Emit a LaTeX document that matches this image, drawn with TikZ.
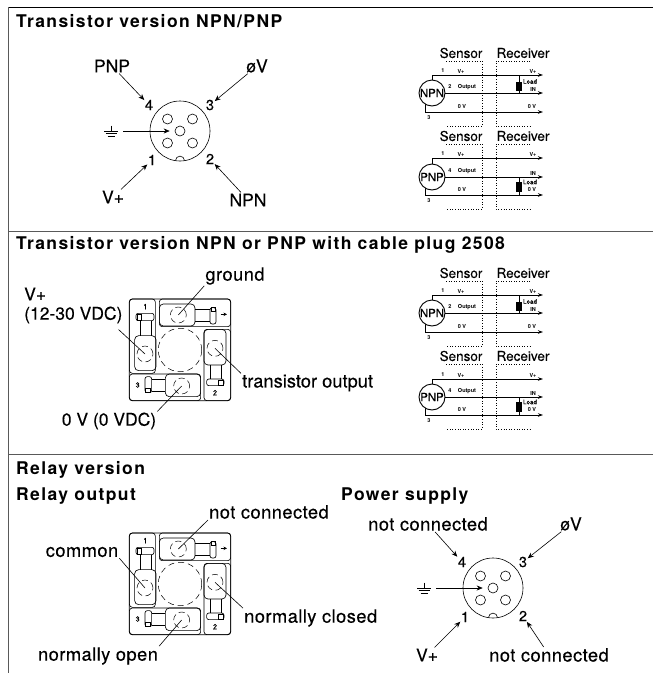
\documentclass[tikz,border=0pt]{standalone}
\usepackage{fontspec}
\setmainfont{TeX Gyre Heros}
\newfontfamily\ttlfont[LetterSpace=8,BoldFont={TeX Gyre Heros Bold}]{TeX Gyre Heros}
\newfontfamily\medfont[FakeBold=0.25,LetterSpace=2.5]{TeX Gyre Heros}
\newfontfamily\numfont[FakeBold=0.25]{TeX Gyre Heros}
\usetikzlibrary{arrows.meta}
\tikzset{
  frameline/.style={line width=1pt,draw=black!65},
  arr/.style={line width=0.6pt,-{Stealth[length=6pt,width=5pt]}},
  ptr/.style={line width=0.6pt},
  ttl/.style={anchor=west,inner sep=0pt,font=\ttlfont\bfseries\fontsize{17.5}{18}\selectfont},
  lab/.style={inner sep=1pt,font=\medfont\fontsize{18.3}{19}\selectfont},
  capslab/.style={inner sep=1pt,font=\numfont\fontsize{17.5}{18}\selectfont},
  translab/.style={inner sep=1pt,font=\numfont\fontsize{18.3}{19}\selectfont},
  pinnum/.style={inner sep=0.5pt,font=\numfont\fontsize{14.5}{15}\selectfont},
  head/.style={inner sep=0pt,font=\numfont\fontsize{13.5}{14}\selectfont},
  tinylab/.style={inner sep=0pt,font=\bfseries\fontsize{5.5}{6}\selectfont},
  tinyplain/.style={inner sep=0pt,font=\numfont\fontsize{6.2}{7}\selectfont},
  devcircle/.style={circle,draw,line width=0.9pt,fill=white,minimum size=26pt,inner sep=0pt,font=\numfont\fontsize{11.4}{12}\selectfont},
  sigline/.style={line width=0.9pt},
  sigarr/.style={line width=0.9pt,-{Stealth[length=5pt,width=3.5pt]}},
  dotbox/.style={line width=0.6pt,dotted},
  pinhole/.style={circle,draw,line width=0.6pt,minimum size=10pt,inner sep=0pt},
  dashc/.style={circle,draw,line width=0.5pt,dash pattern=on 6pt off 3.5pt,inner sep=0pt,minimum size=16pt},
  smallnum/.style={inner sep=0pt,font=\numfont\fontsize{7.5}{8}\selectfont},
  pl/.style={line width=0.65pt,rounded corners=2.2pt},
  pics/roundconn/.style={code={
    \node[circle,draw,line width=0.6pt,minimum size=60pt,inner sep=0pt] (-body) at (0,0) {};
    \node[pinhole] (-p1) at (-12.5,-12) {};
    \node[pinhole] (-p2) at (12.5,-12) {};
    \node[pinhole] (-pc) at (0,0) {};
    \node[pinhole] (-p3) at (-12.5,12) {};
    \node[pinhole] (-p4) at (12.5,12) {};
    \draw[line width=0.6pt] (-4.5,29.6) arc[start angle=180,end angle=360,radius=4.5];
    \node[pinnum] (-n4) at (-31,-26) {4};
    \node[pinnum] (-n3) at (30,-26) {3};
    \node[pinnum] (-n1) at (-28,29) {1};
    \node[pinnum] (-n2) at (30,28) {2};
    \coordinate (-gnd) at (-62,0);
    \draw[line width=0.6pt] (-69,-5.5) -- (-69,0) (-76,0) -- (-62,0);
    \draw[line width=0.6pt] (-74.5,2.5) -- (-63.5,2.5);
    \draw[line width=0.6pt] (-72.5,5) -- (-65.5,5);
    \draw[arr] ([xshift=5pt]-gnd) -- ([xshift=-5pt]-pc.west);
  }},
  pics/plugbox/.style={code={
    \draw[pl,line width=0.8pt,rounded corners=3pt] (88,57) rectangle (392,362);
    \draw[pl,rounded corners=3pt] (88,57) rectangle (166,280);
    \draw[pl,rounded corners=3pt] (178,57) rectangle (392,140);
    \draw[pl,rounded corners=3pt] (312,148) rectangle (392,362);
    \draw[pl,rounded corners=3pt] (88,282) rectangle (302,362);
    \node[circle,draw,line width=0.5pt,dash pattern=on 6pt off 4pt,minimum size=43.5pt,inner sep=0pt] (-big) at (240,210) {};
    \draw[pl,rounded corners=4pt] (178,72) rectangle (285,138);
    \draw[pl,rounded corners=4pt] (104,167) rectangle (168,272);
    \draw[pl,rounded corners=4pt] (312,148) rectangle (378,255);
    \draw[pl,rounded corners=4pt] (196,282) rectangle (302,350);
    \node[dashc] (-T) at (235,105) {};
    \node[dashc] (-L) at (135,222) {};
    \node[dashc] (-R) at (345,205) {};
    \node[dashc] (-B) at (245,318) {};
    % top stem and cap
    \draw[ptr] (285,88) -- (330,88) (285,125) -- (330,125);
    \draw[pl] (330,83) rectangle (348,132);
    \draw[ptr,line width=0.4pt] (333,83) rectangle (346,95);
    \draw[line width=0.6pt,-{Stealth[length=3.5pt,width=3.5pt]}] (362,103) -- (381,103);
    % left
    \draw[ptr] (120,122) -- (120,167) (155,122) -- (155,167);
    \draw[pl] (108,100) rectangle (162,122);
    \draw[ptr,line width=0.4pt] (111,103) rectangle (124,120);
    % right
    \draw[ptr] (330,255) -- (330,297) (365,255) -- (365,297);
    \draw[pl] (320,297) rectangle (372,317);
    \draw[ptr,line width=0.4pt] (356,300) rectangle (369,315);
    % bottom
    \draw[ptr] (155,298) -- (196,298) (155,333) -- (196,333);
    \draw[pl] (135,290) rectangle (155,338);
    \draw[ptr,line width=0.4pt] (136,325) rectangle (150,337);
    \node[smallnum] (-n1) at (136,80) {1};
    \node[smallnum] (-n2) at (345,338) {2};
    \node[smallnum] (-n3) at (113,315) {3};
  }},
}
\newcommand{\schemcommon}[2]{%
  \node[head] (#1s) at (461,53+#2) {Sensor};
  \node[head] (#1r) at (523,53+#2) {Receiver};
  \draw[dotbox] (446,61+#2) -- (482,61+#2) -- (482,126+#2) -- (446,126+#2);
  \draw[dotbox] (530,61+#2) -- (496,61+#2) -- (496,126+#2) -- (530,126+#2);
}
% prefix, V+ y, out y, 0V y, type, pin, load centre y, load line top, load line bottom
\newcommand{\schemlines}[9]{%
  \coordinate (#1vplus) at (543,#2);
  \coordinate (#1vout) at (543,#3);
  \coordinate (#1vzero) at (543,#4);
  \coordinate (#1corner) at (425,#4);
  \coordinate (#1start) at (425,#3);
  \draw[sigarr] (#1start) -- (#1corner) -- (#1vzero);
  \node[devcircle] (#1dev) at (432,#3) {#5};
  \draw[sigarr] (#1dev.north) |- (#1vplus);
  \draw[sigarr] (#1dev.east) -- (#1vout);
  \node[tinylab] (#1a) at (443,#2-4) {1};
  \node[tinylab] (#1b) at (461,#2-4) {V+};
  \node[tinylab] (#1c) at (533,#2-4) {V+};
  \node[tinylab] (#1d) at (450,#3-6) {#6};
  \node[tinylab] (#1e) at (467,#3-6) {Output};
  \node[tinylab] (#1f) at (533,#3-4) {IN};
  \node[tinylab] (#1g) at (462,#4-5) {0 V};
  \node[tinylab] (#1h) at (532,#4-5) {0 V};
  \node[tinylab] (#1i) at (429,#4+5.5) {3};
  \node[tinyplain] (#1l) at (530,#7-4.5) {Load};
  \coordinate (#1ltop) at (519,#8);
  \coordinate (#1lbot) at (519,#9);
  \draw[line width=0.8pt] (#1ltop) -- (#1lbot);
  \node[draw,fill=black,minimum width=5pt,minimum height=8.5pt,inner sep=0pt] (#1k) at (519,#7) {};
}
\begin{document}
\begin{tikzpicture}[x=1pt,y=-1pt]
\useasboundingbox (0,0) rectangle (653,673);
\fill[white] (0,0) rectangle (653,673);
% frame
\draw[line width=1pt,black] (8,7) -- (653,7);
\draw[frameline] (8,7) -- (8,673);
\draw[frameline] (8,231) -- (653,231);
\draw[frameline] (8,454) -- (653,454);
% titles
\node[ttl] (t1) at (16,21) {Transistor version NPN/PNP};
\node[ttl] (t2) at (16,245) {Transistor version NPN or PNP with cable plug 2508};
\node[ttl] (t3) at (16,470) {Relay version};
\node[ttl] (t4) at (16,496) {Relay output};
\node[ttl] (t5) at (341,496) {Power supply};
% connector 1
\pic (c) at (180,131) {roundconn};
\node[capslab] (pnp) at (112,66) {PNP};
\node[capslab] (ov) at (257,66) {øV};
\node[capslab] (vp) at (113,197) {V+};
\node[capslab] (npn) at (248,200) {NPN};
\draw[arr] (pnp) -- (c-n4);
\draw[arr] (ov) -- (c-n3);
\draw[arr] (vp) -- (c-n1);
\draw[arr] (npn) -- (c-n2);
% schematics
\schemcommon{a}{0}
\schemlines{a}{75}{93}{112}{NPN}{2}{86}{75}{93}
\schemcommon{b}{83}
\schemlines{b}{158}{177}{195}{PNP}{4}{186.5}{177}{195}
\schemcommon{d}{220}
\schemlines{d}{295}{313}{332}{NPN}{2}{306}{295}{313}
\schemcommon{e}{303}
\schemlines{e}{379}{397}{415}{PNP}{4}{406.5}{397}{415}
% plug 1
\pic[scale=1/3] (p) at (100,280) {plugbox};
\node[lab] (ground) at (235,276) {ground};
\node[capslab,anchor=west] (vplus) at (23,294) {V+};
\node[capslab,anchor=west] (vdc) at (23,315) {(12-30 VDC)};
\node[translab,anchor=west] (trans) at (241,383) {transistor output};
\node[capslab] (zero) at (109,421) {0 V (0 VDC)};
\draw[ptr] (ground.south west) -- (p-T.center);
\draw[ptr] ([shift={(-5pt,-5pt)}]vdc.south east) -- (p-L.center);
\draw[ptr] (trans.north west) -- (p-R.center);
\draw[ptr] (zero.north east) -- (p-B.center);
% plug 2
\pic[scale=1/3] (q) at (100,514) {plugbox};
\node[lab,anchor=west] (nc) at (208,512) {not connected};
\node[lab] (common) at (82,552) {common};
\node[lab,anchor=west] (nclosed) at (243,618) {normally closed};
\node[lab] (nopen) at (98,656) {normally open};
\draw[ptr] (nc.south west) -- (q-T.center);
\draw[ptr] (common.south east) -- (q-L.center);
\draw[ptr] (nclosed.north west) -- (q-R.center);
\draw[ptr] (nopen.north east) -- (q-B.center);
% connector 2
\pic (r) at (493,588) {roundconn};
\node[lab] (nc4) at (428,524) {not connected};
\node[capslab] (ov2) at (571,524) {øV};
\node[capslab] (vp2) at (427,655) {V+};
\node[lab] (nc2) at (549,655) {not connected};
\draw[arr] (nc4) -- (r-n4);
\draw[arr] (ov2) -- (r-n3);
\draw[arr] (vp2) -- (r-n1);
\draw[arr] (nc2) -- (r-n2);
\end{tikzpicture}
\end{document}
